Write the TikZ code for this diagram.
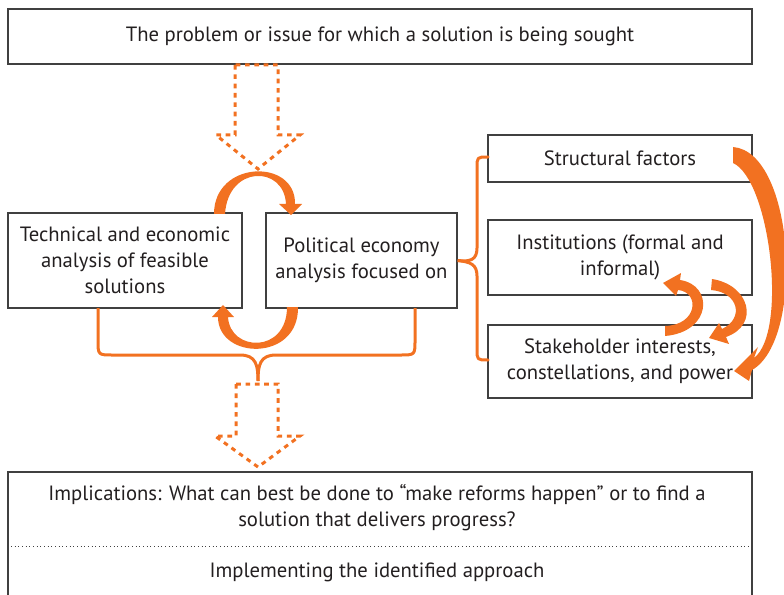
\documentclass[tikz,border=0pt]{standalone}
\usepackage{fontspec}
\setmainfont{PT Sans}
\definecolor{orng}{RGB}{242,113,33}
\definecolor{boxline}{RGB}{64,64,64}
\definecolor{txt}{RGB}{35,31,32}
\tikzset{
  box/.style={draw=boxline, line width=1pt, inner sep=0pt, text=txt, align=center,
    font=\fontsize{15.5}{19.5}\selectfont},
  label/.style={inner sep=0pt, text=txt, align=center, font=\fontsize{15.5}{19.5}\selectfont},
  hollow/.style={draw=orng, line width=2.25pt, dash pattern=on 3.5pt off 3.5pt},
  brace/.style={draw=orng, line width=2.25pt, line join=round},
  swirl/.style={fill=orng, draw=none},
}
\begin{document}
\begin{tikzpicture}[x=0.75pt,y=0.75pt,yscale=-1,xscale=1]
\useasboundingbox (0,0) rectangle (784,595);

% Boxes
\node[box, minimum width=558pt, minimum height=41.25pt] (problem) at (380,36.5) {The problem or issue for which a solution is being sought};
\node[box, minimum width=175.5pt, minimum height=71.25pt] (tech) at (125,260.5) {Technical and economic\\analysis of feasible\\solutions};
\node[box, minimum width=143.25pt, minimum height=71.25pt] (pol) at (361.5,260.5) {Political economy\\analysis focused on};
\node[box, minimum width=198pt, minimum height=35.25pt] (struct) at (620,158.5) {Structural factors};
\node[box, minimum width=198pt, minimum height=56.25pt] (inst) at (620,257.5) {Institutions (formal and\\informal)};
\node[box, minimum width=198pt, minimum height=54.75pt] (stake) at (620,361.5) {Stakeholder interests,\\constellations, and power};
\node[box, minimum width=558pt, minimum height=96pt] (impl) at (380,536) {};

% Text Node
\node[label] (question) at (377,508) {Implications: What can best be done to “make reforms happen” or to find a\\solution that delivers progress?};
% Text Node
\node[label] (approach) at (377,572) {Implementing the identified approach};
%Straight Lines
\draw[boxline, line width=0.75pt, dotted] (impl.west |- 0,546) -- (impl.east |- 0,546);

%Shape: hollow arrow down from the problem
\draw[hollow] (235,65) -- (235,135) -- (216,135) -- (258,169) -- (300,135) -- (278,135) -- (278,65) -- cycle;
%Shape: hollow arrow down to the implications
\draw[hollow] (236,384) -- (236,436) -- (215,436) -- (258,467) -- (300,436) -- (278,436) -- (278,384) -- cycle;

%Curve Lines: tech -> pol
\path[swirl] (214,214) .. controls (214,160) and (296,158) .. (295,204) -- (302,204) -- (291,215) -- (279,204) -- (286,204) .. controls (284,165) and (228,165) .. (225,214) -- cycle;
%Curve Lines: pol -> tech
\path[swirl] (298,307) .. controls (299,362) and (218,360) .. (218,317) -- (212,317) -- (223,305) -- (234,317) -- (228,317) .. controls (230,352) and (287,354) .. (287,307) -- cycle;

%Curve Lines: structural -> stakeholder
\path[swirl] (733,147) .. controls (795,152) and (805,340) .. (752,370) -- (749,381) -- (734,371) -- (758,347) -- (754,358) .. controls (788,332) and (770,180) .. (733,163) -- cycle;
%Curve Lines: stakeholder -> institutions
\path[swirl] (665,336) .. controls (712,332) and (714,285) .. (680,280) -- (681,273) -- (663,283) -- (676,296) -- (678,290) .. controls (700,292) and (698,325) .. (665,326) -- cycle;
%Curve Lines: institutions -> stakeholder
\path[swirl] (712,279) .. controls (750,285) and (760,325) .. (726,337) -- (729,344) -- (709,338) -- (719,323) -- (722,329) .. controls (745,318) and (738,292) .. (711,290) -- cycle;

%Brace under tech and pol
\draw[brace] (98,308) -- (98,340) .. controls (98,355) .. (113,355) -- (240,355) .. controls (256,355) and (258,365) .. (258,381);
\draw[brace] (415,308) -- (415,340) .. controls (415,355) .. (400,355) -- (276,355) .. controls (260,355) and (258,365) .. (258,381);
%Brace from pol to the three factors
\draw[brace] (struct.west |- 0,157) -- (488,157) .. controls (477,157) .. (477,168) -- (477,248) .. controls (477,260) and (470,262) .. (pol.east);
\draw[brace] (stake.west |- 0,360) -- (488,360) .. controls (477,360) .. (477,349) -- (477,276) .. controls (477,264) and (470,262) .. (pol.east);

\end{tikzpicture}
\end{document}
